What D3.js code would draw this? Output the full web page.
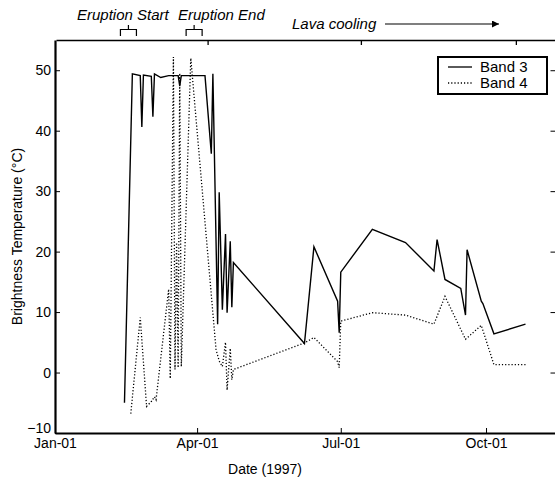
<!DOCTYPE html>
<html>
<head>
<meta charset="utf-8">
<script src="https://cdn.jsdelivr.net/npm/d3@7"></script>
<style>
  body { margin: 0; background: #fff; }
  svg { display: block; font-family: "Liberation Sans", Arial, Helvetica, sans-serif; }
</style>
</head>
<body>
<script>
// chart size
const width = 555;
const height = 480;

// Band 3 (solid) readings
const band3Dates = ["1997-02-14","1997-02-19","1997-02-24","1997-02-25","1997-02-26","1997-03-03","1997-03-04","1997-03-05",
  "1997-03-09","1997-03-14","1997-03-20","1997-03-21","1997-03-22","1997-04-06","1997-04-10","1997-04-11","1997-04-14",
  "1997-04-15","1997-04-17","1997-04-19","1997-04-20","1997-04-22","1997-04-23","1997-04-24","1997-06-08","1997-06-14",
  "1997-06-29","1997-06-30","1997-07-01","1997-07-21","1997-08-11","1997-08-29","1997-08-31","1997-09-05","1997-09-15",
  "1997-09-18","1997-09-19","1997-09-28","1997-09-29","1997-10-06","1997-10-26"];
const band3Values = [-5.0, 49.4, 49.1, 40.6, 49.2, 49.0, 42.3, 49.4, 48.8, 49.1, 49.1, 47.4, 49.1, 49.1, 36.2, 49.4, 8.0,
  29.8, 10.4, 22.9, 9.9, 21.7, 10.8, 18.2, 4.8, 20.8, 11.8, 6.6, 16.6, 23.7, 21.5, 16.8, 22.0, 15.4, 13.9,
  9.5, 20.3, 11.8, 11.4, 6.4, 8.0];

// Band 4 (dotted) readings
const band4Dates = ["1997-02-18","1997-02-24","1997-02-28","1997-03-03","1997-03-05","1997-03-06","1997-03-14","1997-03-15",
  "1997-03-17","1997-03-18","1997-03-19","1997-03-20","1997-03-21","1997-03-22","1997-03-28","1997-04-13","1997-04-15",
  "1997-04-17","1997-04-19","1997-04-20","1997-04-22","1997-04-23","1997-04-24","1997-06-08","1997-06-14","1997-06-29",
  "1997-06-30","1997-07-01","1997-07-21","1997-08-11","1997-08-29","1997-09-05","1997-09-18","1997-09-28","1997-10-06",
  "1997-10-26"];
const band4Values = [-6.8, 9.1, -5.6, -4.8, -4.0, -4.5, 13.8, -1.0, 52.2, 0.5, 21.5, 0.8, 49.5, 1.0, 52.0, 3.8, 1.9,
  1.0, 5.0, -2.9, 4.0, -1.2, 0.5, 4.9, 5.8, 1.8, 0.8, 8.5, 9.9, 9.5, 8.0, 12.6, 5.5, 7.8, 1.3, 1.3];

// axes
const xDomain = ["1997-01-01", "1997-11-14"];
const xTickDates = ["1997-01-01", "1997-04-01", "1997-07-01", "1997-10-01"];
const yDomain = [-10, 55];
const yTicks = [-10, 0, 10, 20, 30, 40, 50];
const seriesNames = ["Band 3", "Band 4"];

const parse = d3.timeParse("%Y-%m-%d");
const plotLeft = 55, plotRight = 555.5, plotTop = 40, plotBottom = 433;

const svg = d3.select("body").append("svg")
  .attr("width", width)
  .attr("height", height);

const x = d3.scaleTime()
  .domain(xDomain.map(parse))
  .range([plotLeft, plotRight]);

const y = d3.scaleLinear()
  .domain(yDomain)
  .range([plotBottom, plotTop]);

// the top frame axis is drawn on a slightly wider scale in the original
const topX = d3.scaleTime()
  .domain(xDomain.map(parse))
  .range([plotLeft + 1, plotLeft + 1 + (plotRight - plotLeft) * 1.675 / 1.57]);

// bottom axis
const xAxis = svg.append("g")
  .attr("transform", `translate(0,${plotBottom})`)
  .call(d3.axisBottom(x)
    .tickValues(xTickDates.map(parse))
    .tickFormat(d3.timeFormat("%b-%d"))
    .tickSizeInner(-5)
    .tickSizeOuter(0)
    .tickPadding(5));
xAxis.select(".domain").attr("stroke-width", 2.2);
xAxis.selectAll("text").attr("font-size", 14).attr("fill", "#000");
xAxis.attr("font-family", null);

// top axis (ticks only)
const tAxis = svg.append("g")
  .attr("transform", `translate(0,${plotTop})`)
  .call(d3.axisBottom(topX)
    .tickValues(xTickDates.slice(1).map(parse))
    .tickFormat("")
    .tickSizeInner(5)
    .tickSizeOuter(0));
tAxis.select(".domain").attr("stroke-width", 1.6);
tAxis.selectAll(".tick line").attr("stroke-width", 1.3);

// left axis
const yAxis = svg.append("g")
  .attr("transform", `translate(${plotLeft},0)`)
  .call(d3.axisLeft(y)
    .tickValues(yTicks)
    .tickSizeInner(-5)
    .tickSizeOuter(0)
    .tickPadding(4));
yAxis.select(".domain").attr("stroke-width", 2.2);
yAxis.selectAll("text").attr("font-size", 14).attr("fill", "#000");
yAxis.attr("font-family", null);
// the lowest label sits a little higher so it clears "Jan-01"
yAxis.selectAll(".tick text").filter(d => d === yDomain[0]).attr("dy", "-0.05em");

// right axis (ticks only)
svg.append("g")
  .attr("transform", `translate(${plotRight},0)`)
  .call(d3.axisLeft(y)
    .tickValues(yTicks)
    .tickFormat("")
    .tickSizeInner(5)
    .tickSizeOuter(0));

// axis titles
svg.append("text")
  .attr("x", 265).attr("y", 474)
  .attr("text-anchor", "middle")
  .attr("font-size", 14)
  .text("Date (1997)");

svg.append("text")
  .attr("transform", `translate(22,${(plotTop + plotBottom) / 2}) rotate(-90)`)
  .attr("text-anchor", "middle")
  .attr("font-size", 14)
  .text("Brightness Temperature (°C)");

// series lines
const line = d3.line()
  .x(d => x(d.date))
  .y(d => y(d.value));

const band3 = band3Dates.map((d, i) => ({ date: parse(d), value: band3Values[i] }));
const band4 = band4Dates.map((d, i) => ({ date: parse(d), value: band4Values[i] }));

svg.append("path")
  .datum(band4)
  .attr("fill", "none")
  .attr("stroke", "#000")
  .attr("stroke-width", 1.3)
  .attr("stroke-dasharray", "1.2,2")
  .attr("d", line);

svg.append("path")
  .datum(band3)
  .attr("fill", "none")
  .attr("stroke", "#000")
  .attr("stroke-width", 1.4)
  .attr("d", line);

// legend
const legend = svg.append("g").attr("transform", "translate(438,57)");
legend.append("rect")
  .attr("width", 109).attr("height", 37)
  .attr("fill", "#fff")
  .attr("stroke", "#000")
  .attr("stroke-width", 2);
seriesNames.forEach((name, i) => {
  const row = legend.append("g").attr("transform", `translate(0,${10 + i * 16})`);
  row.append("line")
    .attr("x1", 10).attr("x2", 34)
    .attr("stroke", "#000")
    .attr("stroke-width", 1.3)
    .attr("stroke-dasharray", i === 0 ? null : "1.2,2");
  row.append("text")
    .attr("x", 42).attr("y", 5)
    .attr("font-size", 15)
    .text(name);
});

// eruption annotations on the top scale
const notes = [
  { label: "Eruption Start", date: "1997-02-13", tx: 77 },
  { label: "Eruption End", date: "1997-03-24", tx: 178 }
];
notes.forEach(n => {
  const cx = topX(parse(n.date));
  svg.append("text")
    .attr("x", n.tx).attr("y", 20)
    .attr("font-size", 15)
    .attr("font-style", "italic")
    .text(n.label);
  svg.append("path")
    .attr("d", `M${cx},25V29.5M${cx - 8},36V29.5H${cx + 8}V36`)
    .attr("fill", "none")
    .attr("stroke", "#000")
    .attr("stroke-width", 1.2);
});

svg.append("text")
  .attr("x", 292).attr("y", 29)
  .attr("font-size", 15)
  .attr("font-style", "italic")
  .text("Lava cooling");

svg.append("defs").append("marker")
  .attr("id", "head")
  .attr("viewBox", "0 0 10 10")
  .attr("refX", 10).attr("refY", 5)
  .attr("markerWidth", 9).attr("markerHeight", 7)
  .attr("markerUnits", "userSpaceOnUse")
  .attr("orient", "auto")
  .append("path")
  .attr("d", "M0,0L10,5L0,10Z")
  .attr("fill", "#000");

svg.append("line")
  .attr("x1", 385).attr("x2", 499)
  .attr("y1", 24).attr("y2", 24)
  .attr("stroke", "#000")
  .attr("stroke-width", 1.2)
  .attr("marker-end", "url(#head)");
</script>
</body>
</html>
